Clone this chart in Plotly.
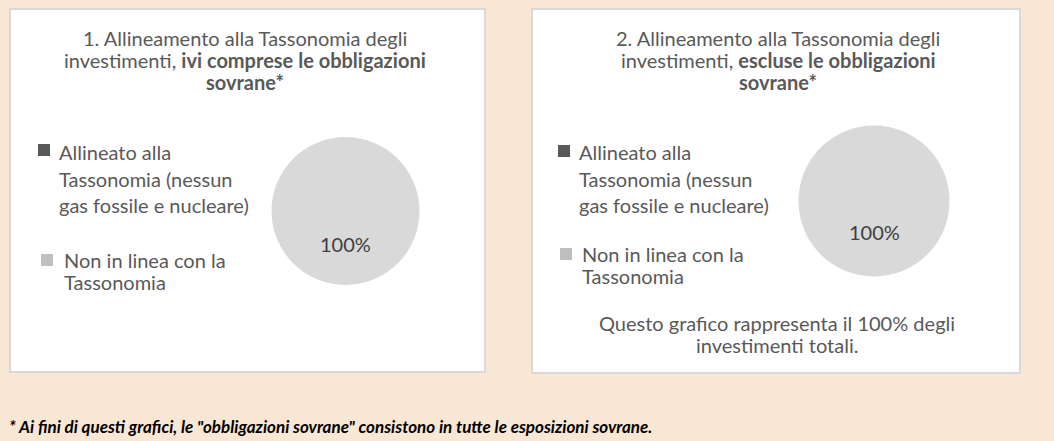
import plotly.graph_objects as go

# ---------------- data ----------------
categories = [
    "Allineato alla Tassonomia (nessun gas fossile e nucleare)",
    "Non in linea con la Tassonomia",
]
legend_lines = [
    ["Allineato alla", "Tassonomia (nessun", "gas fossile e nucleare)"],
    ["Non in linea con la", "Tassonomia"],
]
values_incl_sovereign = [0, 100]
values_excl_sovereign = [0, 100]
chart_title_lines = [
    ["1. Allineamento alla Tassonomia degli",
     "investimenti, <b>ivi comprese le obbligazioni</b>",
     "<b>sovrane*</b>"],
    ["2. Allineamento alla Tassonomia degli",
     "investimenti, <b>escluse le obbligazioni</b>",
     "<b>sovrane*</b>"],
]
note_lines = ["Questo grafico rappresenta il 100% degli", "investimenti totali."]
footer_text = '* Ai fini di questi grafici, le "obbligazioni sovrane" consistono in tutte le esposizioni sovrane.'

# ---------------- styling / layout ----------------
W, H = 1054, 441
BG = "#f8e7d5"
TEXT = "#595959"
FONT = "Lato"
FS = 20
slice_colors = ["#595959", "#d9d9d9"]
legend_marker_colors = ["#595959", "#bfbfbf"]


def fx(px):
    return px / W


def fy(py):
    return 1 - py / H


panels = [
    dict(x0=10, x1=485, y0=9, y1=372, cx=345.5, cy=211, r=74,
         label_y=244.5, title_x=245, title_y=[38, 60, 82],
         leg=[dict(mx=38, my=144, tx=57, ty=[151.5, 178.5, 204.5]),
              dict(mx=41, my=254, tx=62, ty=[259.5, 281.5])]),
    dict(x0=532, x1=1020, y0=9, y1=373, cx=874, cy=201, r=75.5,
         label_y=232, title_x=778, title_y=[38, 60, 82],
         leg=[dict(mx=558, my=145, tx=577, ty=[151.5, 178.5, 205]),
              dict(mx=560, my=248, tx=580, ty=[253.5, 275.5])]),
]
note_pos = dict(x=777, y=[323, 345])


def text_ann(x, y, text, anchor="center", size=FS, color=TEXT):
    return dict(xref="paper", yref="paper", x=fx(x), y=fy(y), text=text,
                showarrow=False, xanchor=anchor, yanchor="middle",
                font=dict(family=FONT, size=size, color=color))


fig = go.Figure()
shapes = []
annotations = []

for i, (p, vals) in enumerate(zip(panels, [values_incl_sovereign, values_excl_sovereign])):
    # panel box
    shapes.append(dict(type="rect", xref="paper", yref="paper",
                       x0=fx(p["x0"]), x1=fx(p["x1"]), y0=fy(p["y1"]), y1=fy(p["y0"]),
                       fillcolor="white", line=dict(color="#d9d9d9", width=2), layer="below"))
    # pie
    fig.add_trace(go.Pie(
        labels=categories, values=vals, sort=False, direction="clockwise",
        marker=dict(colors=slice_colors, line=dict(width=0)),
        textinfo="none", hoverinfo="label+percent", showlegend=False,
        domain=dict(x=[fx(p["cx"] - p["r"]), fx(p["cx"] + p["r"])],
                    y=[fy(p["cy"] + p["r"]), fy(p["cy"] - p["r"])]),
    ))
    # percent label of the visible slice
    total = sum(vals)
    main = max(range(len(vals)), key=lambda k: vals[k])
    annotations.append(text_ann(p["cx"], p["label_y"], f"{vals[main] / total * 100:.0f}%",
                                color="#404040"))
    # title lines
    for line, ty in zip(chart_title_lines[i], p["title_y"]):
        annotations.append(text_ann(p["title_x"], ty, line))
    # legend
    for k, leg in enumerate(p["leg"]):
        shapes.append(dict(type="rect", xref="paper", yref="paper",
                           x0=fx(leg["mx"]), x1=fx(leg["mx"] + 12),
                           y0=fy(leg["my"] + 12), y1=fy(leg["my"]),
                           fillcolor=legend_marker_colors[k], line=dict(width=0)))
        for line, ty in zip(legend_lines[k], leg["ty"]):
            annotations.append(text_ann(leg["tx"], ty, line, anchor="left"))

# note in second panel
for line, ty in zip(note_lines, note_pos["y"]):
    annotations.append(text_ann(note_pos["x"], ty, line))

# footer
annotations.append(text_ann(7, 426.5, f"<b><i>{footer_text}</i></b>", anchor="left",
                            size=17, color="black"))

fig.update_layout(
    width=W, height=H,
    margin=dict(l=0, r=0, t=0, b=0),
    paper_bgcolor=BG, plot_bgcolor=BG,
    shapes=shapes, annotations=annotations,
    showlegend=False,
)

fig.write_html(
    "out.html",
    config={"displayModeBar": False},
    post_script="document.body.style.margin='0';document.body.style.overflow='hidden';",
)
